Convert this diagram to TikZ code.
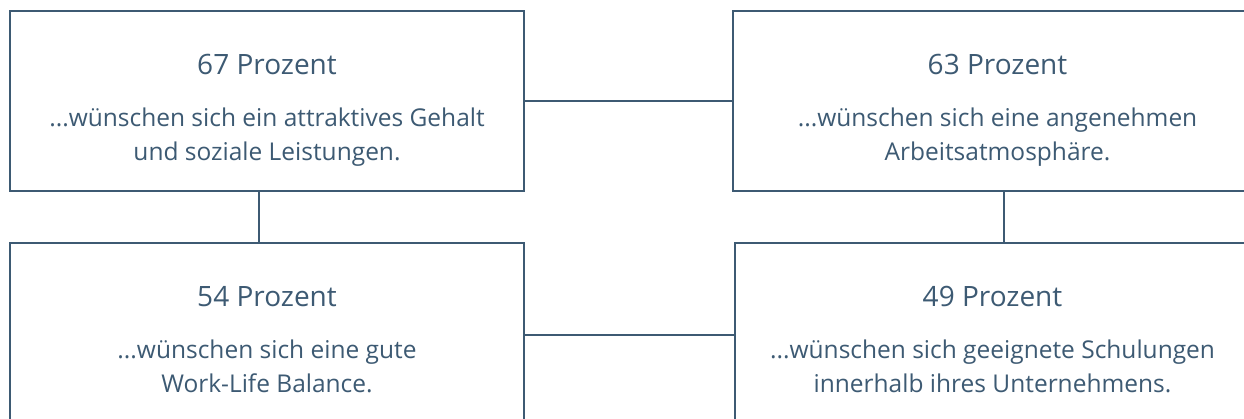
\documentclass[tikz,border=0pt]{standalone}
\usepackage{fontspec}
\setmainfont{Open Sans}
\usepackage{xcolor}
\usepackage{tikz}
\definecolor{slate}{HTML}{3D5A73}
\tikzstyle{box}=[draw=slate, fill=white, line width=2.5pt, shape=rectangle, inner sep=0pt, outer sep=0pt]
\tikzstyle{title}=[text=slate, anchor=base, inner sep=0pt, font=\fontsize{28}{34}\selectfont]
\tikzstyle{body}=[text=slate, anchor=base, align=center, inner sep=0pt, font=\fontsize{24.5}{33.5}\selectfont]
\tikzstyle{link}=[-, draw=slate, line width=2.5pt]
\pgfdeclarelayer{nodelayer}
\pgfdeclarelayer{edgelayer}
\pgfsetlayers{edgelayer,main,nodelayer}
\begin{document}
\begin{tikzpicture}[x=1pt, y=-1pt]
    	\useasboundingbox (0,0) rectangle (1244,418);
    	\begin{pgfonlayer}{nodelayer}
    		\node [style=box, minimum width=514pt, minimum height=180pt] (gehalt) at (267, 101) {};
    		\node [style=box, minimum width=529pt, minimum height=180pt] (klima) at (997.5, 101) {};
    		\node [style=box, minimum width=514pt, minimum height=184pt] (balance) at (267, 335) {};
    		\node [style=box, minimum width=515pt, minimum height=184pt] (schulung) at (992.5, 335) {};
    		\node [style=title] (gehalt title) at ([yshift=-63pt]gehalt.north) {67 Prozent};
    		\node [style=body] (gehalt text) at ([yshift=-149pt]gehalt.north) {...wünschen sich ein attraktives Gehalt\\und soziale Leistungen.};
    		\node [style=title] (klima title) at ([yshift=-63pt]klima.north) {63 Prozent};
    		\node [style=body] (klima text) at ([yshift=-149pt]klima.north) {...wünschen sich eine angenehmen\\Arbeitsatmosphäre.};
    		\node [style=title] (balance title) at ([yshift=-63pt]balance.north) {54 Prozent};
    		\node [style=body] (balance text) at ([yshift=-149pt]balance.north) {...wünschen sich eine gute\\Work-Life Balance.};
    		\node [style=title] (schulung title) at ([yshift=-63pt]schulung.north) {49 Prozent};
    		\node [style=body] (schulung text) at ([yshift=-149pt]schulung.north) {...wünschen sich geeignete Schulungen\\innerhalb ihres Unternehmens.};
    	\end{pgfonlayer}
    	\begin{pgfonlayer}{edgelayer}
    		\draw [style=link] (gehalt) to (klima);
    		\draw [style=link] (balance) to (schulung);
    		\draw [style=link] ([xshift=-8pt]gehalt.south) to ([xshift=-8pt]balance.north);
    		\draw [style=link] ([xshift=6.5pt]klima.south) to ([xshift=6.5pt]klima.south |- schulung.north);
    	\end{pgfonlayer}
    \end{tikzpicture}
\end{document}
